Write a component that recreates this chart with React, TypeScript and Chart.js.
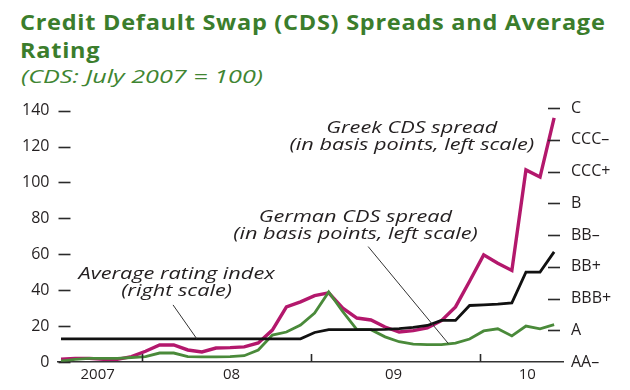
import React, { useEffect, useRef } from "react";
import { Chart, registerables } from "chart.js";

Chart.register(...registerables);

// Monthly observations, July 2007 – June 2010
const months = [
  "Jul 2007", "Aug 2007", "Sep 2007", "Oct 2007", "Nov 2007", "Dec 2007",
  "Jan 2008", "Feb 2008", "Mar 2008", "Apr 2008", "May 2008", "Jun 2008",
  "Jul 2008", "Aug 2008", "Sep 2008", "Oct 2008", "Nov 2008", "Dec 2008",
  "Jan 2009", "Feb 2009", "Mar 2009", "Apr 2009", "May 2009", "Jun 2009",
  "Jul 2009", "Aug 2009", "Sep 2009", "Oct 2009", "Nov 2009", "Dec 2009",
  "Jan 2010", "Feb 2010", "Mar 2010", "Apr 2010", "May 2010", "Jun 2010",
];

// Greek CDS spread (left scale)
const greekCDS = [
  1.5, 2, 2, 1.5, 1.5, 3, 6, 9.5, 9.5, 6.7, 5.6, 7.8,
  8, 8.4, 10.6, 17.8, 30.7, 33.5, 37, 38.5, 30, 24.5, 23.4, 19.5,
  16.7, 17.5, 19, 23, 30.7, 45, 59.7, 55, 51, 107, 103, 136,
];

// German CDS spread (left scale)
const germanCDS = [
  0.5, 1.5, 2, 2, 2, 2.5, 3, 5, 5, 3, 2.8, 2.8,
  3, 3.5, 6.7, 15, 16.7, 20.6, 27.3, 39, 28, 18, 18, 14,
  11.3, 10, 9.7, 9.7, 10.5, 12.8, 17.3, 18.5, 14.5, 20, 18.5, 20.8,
];

// Average rating index (right scale, AA– = 0 ... C = 8)
const ratingIndex = [
  0.73, 0.73, 0.73, 0.73, 0.73, 0.73, 0.73, 0.73, 0.73, 0.73, 0.73, 0.73,
  0.73, 0.73, 0.73, 0.73, 0.73, 0.73, 0.93, 1.02, 1.02, 1.02, 1.02, 1.03,
  1.05, 1.09, 1.15, 1.31, 1.31, 1.78, 1.8, 1.82, 1.86, 2.83, 2.83, 3.47,
];

const leftTicks = [0, 20, 40, 60, 80, 100, 120, 140];
const ratingLabels = ["AA\u2013", "A", "BBB+", "BB+", "BB\u2013", "B", "CCC+", "CCC\u2013", "C"];
const ratingTicks = [0, 1, 2, 3, 4, 5, 6, 7, 8];
const yearLabels = ["2007", "08", "09", "10"];
const yearLabelPos = [2.6, 12.1, 23.6, 33.1];
const yearBoundaries = [5.75, 17.75, 29.75];

const notes = [
  { lines: ["Greek CDS spread", "(in basis points, left scale)"], x: 24.9, y: 127.7 },
  { lines: ["German CDS spread", "(in basis points, left scale)"], x: 20.9, y: 78 },
  { lines: ["Average rating index", "(right scale)"], x: 8.2, y: 46.3 },
];
const leaders = [
  { x1: 7.95, y1: 31.8, x2: 9.63, y2: 13.0 },
  { x1: 21.8, y1: 64.3, x2: 27.5, y2: 10.2 },
];

const GREEN_TITLE = "#3b7d2c";
const GREEN_SUB = "#408532";
const TEXT = "#231f20";
const FONT = "'Open Sans', 'Noto Sans', sans-serif";

const decor = {
  id: "decor",
  afterDatasetsDraw(chart: any) {
    const { ctx, chartArea, scales } = chart;
    const x = scales.x;
    const yL = scales.yL;
    const yR = scales.yR;
    ctx.save();
    ctx.strokeStyle = "#2a2a2a";
    ctx.lineWidth = 1.6;
    // left tick dashes
    leftTicks.forEach((v) => {
      const py = Math.round(yL.getPixelForValue(v)) + 0.5;
      ctx.beginPath();
      ctx.moveTo(chartArea.left + 1, py);
      ctx.lineTo(chartArea.left + 13, py);
      ctx.stroke();
    });
    // right tick dashes
    ratingTicks.forEach((v) => {
      if (v === 0) return;
      const py = Math.round(yR.getPixelForValue(v)) + 0.5;
      ctx.beginPath();
      ctx.moveTo(chartArea.right - 15, py);
      ctx.lineTo(chartArea.right - 3, py);
      ctx.stroke();
    });
    // upward year ticks
    yearBoundaries.forEach((v) => {
      const px = Math.round(x.getPixelForValue(v)) + 0.5;
      ctx.beginPath();
      ctx.moveTo(px, chartArea.bottom);
      ctx.lineTo(px, chartArea.bottom - 8);
      ctx.stroke();
    });
    // leader lines
    ctx.lineWidth = 1;
    ctx.strokeStyle = "#333";
    leaders.forEach((l) => {
      ctx.beginPath();
      ctx.moveTo(x.getPixelForValue(l.x1), yL.getPixelForValue(l.y1));
      ctx.lineTo(x.getPixelForValue(l.x2), yL.getPixelForValue(l.y2));
      ctx.stroke();
    });
    // notes (wide italic lettering)
    ctx.fillStyle = TEXT;
    ctx.font = `italic 15.5px ${FONT}`;
    ctx.textAlign = "center";
    ctx.textBaseline = "alphabetic";
    notes.forEach((n) => {
      const cx = x.getPixelForValue(n.x);
      const by = yL.getPixelForValue(n.y);
      n.lines.forEach((t, i) => {
        ctx.save();
        ctx.translate(cx, by + i * 17);
        ctx.scale(1.4, 1);
        ctx.fillText(t, 0, 0);
        ctx.restore();
      });
    });
    ctx.restore();
  },
};

export default function App() {
  const ref = useRef<HTMLCanvasElement | null>(null);

  useEffect(() => {
    if (!ref.current) return;
    const tickFont = { family: FONT, size: 16 };
    const chart = new Chart(ref.current, {
      type: "line",
      data: {
        datasets: [
          {
            label: "Average rating index",
            data: ratingIndex.map((v, i) => ({ x: i, y: v })),
            yAxisID: "yR",
            borderColor: "#111111",
            borderWidth: 2.8,
            pointRadius: 0,
            tension: 0,
          },
          {
            label: "German CDS spread",
            data: germanCDS.map((v, i) => ({ x: i, y: v })),
            yAxisID: "yL",
            borderColor: "#4a8a3a",
            borderWidth: 2.8,
            pointRadius: 0,
            tension: 0,
          },
          {
            label: "Greek CDS spread",
            data: greekCDS.map((v, i) => ({ x: i, y: v })),
            yAxisID: "yL",
            borderColor: "#b3186c",
            borderWidth: 3.4,
            pointRadius: 0,
            tension: 0,
          },
        ],
      },
      options: {
        responsive: false,
        animation: false,
        devicePixelRatio: 1,
        layout: { padding: { top: 108, left: 0, right: 0, bottom: 0 } },
        plugins: { legend: { display: false }, tooltip: { enabled: false }, title: { display: false } },
        scales: {
          x: {
            type: "linear",
            min: -0.25,
            max: 35.63,
            grid: { display: false, drawTicks: false },
            border: { display: true, color: "#333333", width: 1.6 },
            ticks: {
              font: { family: FONT, size: 15 },
              color: TEXT,
              padding: 4,
              autoSkip: false,
              maxRotation: 0,
              callback: (_v: any, i: number) => yearLabels[i],
            },
            afterBuildTicks: (s: any) => {
              s.ticks = yearLabelPos.map((v) => ({ value: v }));
            },
            afterFit: (s: any) => {
              s.height = 28;
            },
          },
          yL: {
            type: "linear",
            position: "left",
            min: 0,
            max: 141.5,
            grid: { display: false, drawTicks: false },
            border: { display: false },
            ticks: { font: tickFont, color: TEXT, padding: 8 },
            afterBuildTicks: (s: any) => {
              s.ticks = leftTicks.map((v) => ({ value: v }));
            },
            afterFit: (s: any) => {
              s.width = 57.5;
            },
          },
          yR: {
            type: "linear",
            position: "right",
            min: 0,
            max: 8,
            grid: { display: false, drawTicks: false },
            border: { display: false },
            ticks: {
              font: tickFont,
              color: TEXT,
              padding: 8,
              callback: (_v: any, i: number) => ratingLabels[i],
            },
            afterBuildTicks: (s: any) => {
              s.ticks = ratingTicks.map((v) => ({ value: v }));
            },
            afterFit: (s: any) => {
              s.width = 67;
            },
          },
        },
      },
      plugins: [decor],
    } as any);
    return () => chart.destroy();
  }, []);

  return (
    <div style={{ position: "fixed", left: 0, top: 0, width: 630, height: 390, background: "#fff", overflow: "hidden" }}>
      <div
        style={{
          position: "absolute",
          left: 20,
          top: 8,
          font: `bold 21px ${FONT}`,
          lineHeight: "28px",
          color: GREEN_TITLE,
          letterSpacing: "0.65px",
          whiteSpace: "nowrap",
          transform: "scaleX(1.12)",
          transformOrigin: "0 0",
        }}
      >
        Credit Default Swap (CDS) Spreads and Average
        <br />
        Rating
      </div>
      <div
        style={{
          position: "absolute",
          left: 21,
          top: 65,
          font: `italic 400 18px ${FONT}`,
          lineHeight: "22px",
          color: GREEN_SUB,
          whiteSpace: "nowrap",
          transform: "scaleX(1.4)",
          transformOrigin: "0 0",
        }}
      >
        (CDS: July 2007 = 100)
      </div>
      <canvas ref={ref} width={630} height={390} style={{ position: "absolute", left: 0, top: 0, width: 630, height: 390 }} />
    </div>
  );
}
